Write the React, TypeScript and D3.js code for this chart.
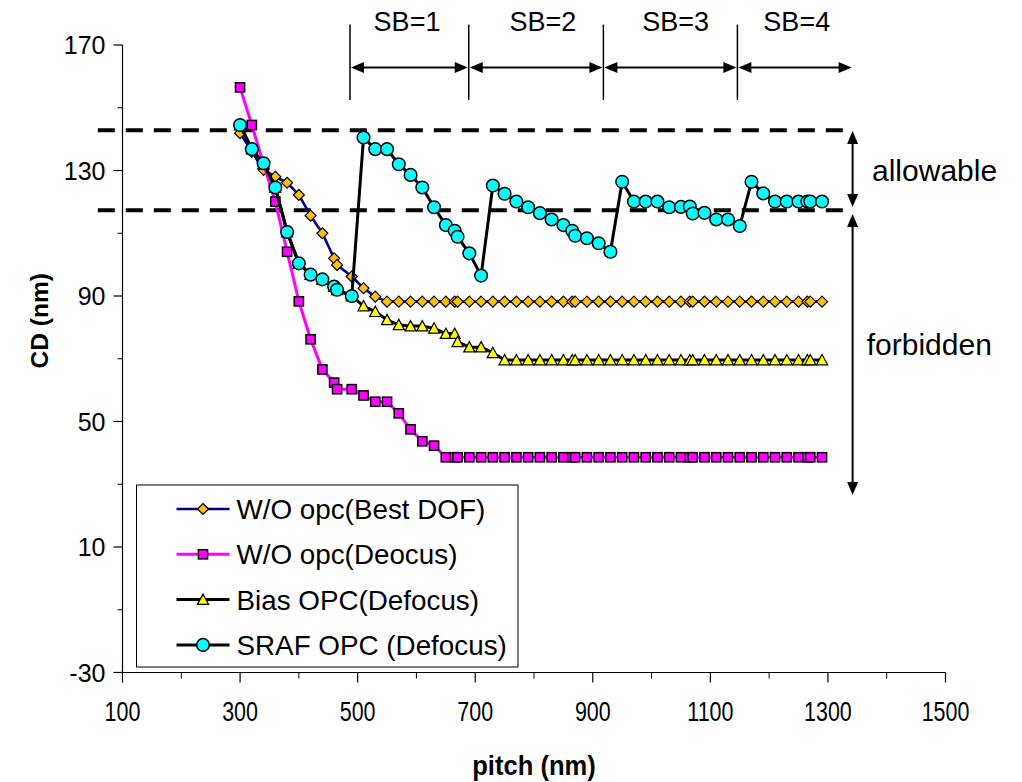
import React from 'react';
import * as d3 from 'd3';

const pitch = [300, 320, 340, 360, 380, 400, 420, 440, 460, 465, 490, 510, 530, 550, 570, 590, 610, 630, 650, 665, 670, 690, 710, 730, 750, 770, 790, 810, 830, 850, 865, 870, 890, 910, 930, 950, 970, 990, 1010, 1030, 1050, 1065, 1070, 1090, 1110, 1130, 1150, 1170, 1190, 1210, 1230, 1250, 1265, 1270, 1290];

const bestDof = [141.9, 136, 130.2, 128, 126.1, 122.2, 115.6, 110, 102, 99.9, 96.2, 92.5, 89.8, 88.2, 88.2, 88.2, 88.2, 88.2, 88.2, 88.2, 88.2, 88.2, 88.2, 88.2, 88.2, 88.2, 88.2, 88.2, 88.2, 88.2, 88.2, 88.2, 88.2, 88.2, 88.2, 88.2, 88.2, 88.2, 88.2, 88.2, 88.2, 88.2, 88.2, 88.2, 88.2, 88.2, 88.2, 88.2, 88.2, 88.2, 88.2, 88.2, 88.2, 88.2, 88.2];

const deocus = [156.5, 144.5, 132, 120.1, 104.1, 88.3, 76.2, 66.6, 62.4, 60.3, 60.3, 58.3, 56.3, 56.3, 52.6, 47.5, 43.7, 42.3, 38.6, 38.6, 38.6, 38.6, 38.6, 38.6, 38.6, 38.6, 38.6, 38.6, 38.6, 38.6, 38.6, 38.6, 38.6, 38.6, 38.6, 38.6, 38.6, 38.6, 38.6, 38.6, 38.6, 38.6, 38.6, 38.6, 38.6, 38.6, 38.6, 38.6, 38.6, 38.6, 38.6, 38.6, 38.6, 38.6, 38.6];

const biasOpc = [144.5, 136.8, 132.3, 124.6, 110.4, 100.4, 96.8, 95.3, 93, 92, 90, 86.8, 85, 82.4, 80.8, 80.4, 80.4, 79.7, 78, 78, 75.4, 73.7, 73.7, 71.9, 69.6, 69.6, 69.6, 69.6, 69.6, 69.6, 69.6, 69.6, 69.6, 69.6, 69.6, 69.6, 69.6, 69.6, 69.6, 69.6, 69.6, 69.6, 69.6, 69.6, 69.6, 69.6, 69.6, 69.6, 69.6, 69.6, 69.6, 69.6, 69.6, 69.6, 69.6];

const srafOpc = [144.5, 136.8, 132.3, 124.6, 110.4, 100.4, 96.8, 95.3, 93, 92, 90, 140.5, 136.8, 136.8, 132, 128.6, 124.6, 118.3, 112.6, 110.8, 108.9, 103.6, 96.5, 125.2, 122.6, 120.1, 118.3, 116.4, 114.4, 112.6, 110.8, 109.2, 108.4, 106.8, 104.1, 126.4, 120.1, 120.1, 120.1, 118.3, 118.4, 118.5, 116.3, 116.5, 114.4, 114.4, 112.3, 126.4, 122.7, 120.1, 120.1, 120.1, 120.1, 120.1, 120.1];

const seriesNames = ['W/O opc(Best DOF)', 'W/O opc(Deocus)', 'Bias OPC(Defocus)', 'SRAF OPC (Defocus)'];
const xTickValues = [100, 300, 500, 700, 900, 1100, 1300, 1500];
const xMinorValues = [200, 400, 600, 800, 1000, 1200, 1400];
const yTickValues = [-30, 10, 50, 90, 130, 170];
const yMinorValues = [-10, 30, 70, 110, 150];

// annotations (data units)
const sbBounds = [487, 689, 918, 1146, 1342];
const sbLabels = ['SB=1', 'SB=2', 'SB=3', 'SB=4'];
const sbLabelCenters = [584, 815, 1041, 1247];
const limitLines = [142.8, 117.3];
const allowableRange = [142.6, 118.4];
const forbiddenRange = [116.1, 26.6];

const W = 1022;
const H = 782;
const FONT = '"Liberation Sans", Arial, sans-serif';

const x = d3.scaleLinear().domain([100, 1500]).range([122.5, 945.5]);
const y = d3.scaleLinear().domain([-30, 170]).range([672.5, 45]);

type Kind = 'diamond' | 'square' | 'triangle' | 'circle';
const series: { name: string; values: number[]; line: string; lw: number; kind: Kind; fill: string }[] = [
  { name: seriesNames[0], values: bestDof, line: '#000080', lw: 2.6, kind: 'diamond', fill: '#FFC000' },
  { name: seriesNames[1], values: deocus, line: '#FF00FF', lw: 3, kind: 'square', fill: '#FF00FF' },
  { name: seriesNames[2], values: biasOpc, line: '#000000', lw: 3, kind: 'triangle', fill: '#FFFF00' },
  { name: seriesNames[3], values: srafOpc, line: '#000000', lw: 3, kind: 'circle', fill: '#00FFFF' },
];

function Marker({ kind, cx, cy, fill }: { kind: Kind; cx: number; cy: number; fill: string }) {
  if (kind === 'diamond') {
    return <path d={`M${cx},${cy - 5.5}L${cx + 5.5},${cy}L${cx},${cy + 5.5}L${cx - 5.5},${cy}Z`} fill={fill} stroke="#000" strokeWidth={1.2} />;
  }
  if (kind === 'square') {
    return <rect x={cx - 4.6} y={cy - 4.6} width={9.2} height={9.2} fill={fill} stroke="#000" strokeWidth={1.5} />;
  }
  if (kind === 'triangle') {
    return <path d={`M${cx},${cy - 5.5}L${cx + 5.6},${cy + 4.8}L${cx - 5.6},${cy + 4.8}Z`} fill={fill} stroke="#000" strokeWidth={1.2} />;
  }
  return <circle cx={cx} cy={cy} r={6.3} fill={fill} stroke="#000" strokeWidth={1.5} />;
}

function Arrow({ x1, y1, x2, y2 }: { x1: number; y1: number; x2: number; y2: number }) {
  const len = Math.hypot(x2 - x1, y2 - y1);
  const ux = (x2 - x1) / len;
  const uy = (y2 - y1) / len;
  const hl = 13;
  const hw = 5.5;
  const head = (tx: number, ty: number, dx: number, dy: number) => {
    const bx = tx - dx * hl;
    const by = ty - dy * hl;
    return `M${tx},${ty}L${bx - dy * hw},${by + dx * hw}L${bx + dy * hw},${by - dx * hw}Z`;
  };
  return (
    <g>
      <line x1={x1 + ux * 6} y1={y1 + uy * 6} x2={x2 - ux * 6} y2={y2 - uy * 6} stroke="#000" strokeWidth={2} />
      <path d={head(x2, y2, ux, uy)} fill="#000" />
      <path d={head(x1, y1, -ux, -uy)} fill="#000" />
    </g>
  );
}

export default function App() {
  const lineGen = (vals: number[]) =>
    d3
      .line<number>()
      .x((_, i) => x(pitch[i]))
      .y((d) => y(d))(vals) as string;

  const x0 = x(100);
  const x1 = x(1500);
  const yb = y(-30);
  const yt = y(170);

  const legX = 136.5;
  const legY = 485;
  const legW = 381.5;
  const legH = 182;
  const rowH = 45.3;

  return (
    <svg width={W} height={H} style={{ position: 'absolute', left: 0, top: 0, background: '#fff' }} fontFamily={FONT}>
      <rect width={W} height={H} fill="#fff" />

      {/* dashed limit lines */}
      {limitLines.map((v, i) => (
        <line key={i} x1={x(58)} x2={x(1328)} y1={y(v)} y2={y(v)} stroke="#000" strokeWidth={4} strokeDasharray="17 11" />
      ))}

      {/* axes */}
      <line x1={x0} x2={x0} y1={yt} y2={yb} stroke="#000" strokeWidth={1.2} />
      <line x1={x0} x2={x1} y1={yb} y2={yb} stroke="#000" strokeWidth={1.2} />
      {yTickValues.map((v) => (
        <g key={v}>
          <line x1={x0 - 9} x2={x0} y1={y(v)} y2={y(v)} stroke="#000" strokeWidth={1.2} />
          <text x={x0 - 17} y={y(v)} dy="0.36em" textAnchor="end" fontSize={25}>{v}</text>
        </g>
      ))}
      {yMinorValues.map((v) => (
        <line key={v} x1={x0 - 5} x2={x0} y1={y(v)} y2={y(v)} stroke="#000" strokeWidth={1} />
      ))}
      {xTickValues.map((v) => (
        <g key={v}>
          <line x1={x(v)} x2={x(v)} y1={yb} y2={yb + 10} stroke="#000" strokeWidth={1.2} />
          <text transform={`translate(${x(v)},${yb + 48}) scale(0.78,1)`} textAnchor="middle" fontSize={27.5}>{v}</text>
        </g>
      ))}
      {xMinorValues.map((v) => (
        <line key={v} x1={x(v)} x2={x(v)} y1={yb} y2={yb + 6} stroke="#000" strokeWidth={1} />
      ))}

      <text transform={`translate(${(x0 + x1) / 2},775) scale(0.93,1)`} textAnchor="middle" fontSize={27.5} fontWeight="bold">pitch (nm)</text>
      <text transform={`translate(48,${(yt + yb) / 2 - 38}) rotate(-90)`} textAnchor="middle" fontSize={24.5} fontWeight="bold">CD (nm)</text>

      {/* series */}
      {series.map((s, si) => (
        <g key={si}>
          <path d={lineGen(s.values)} fill="none" stroke={s.line} strokeWidth={s.lw} strokeLinejoin="round" />
          {s.values.map((v, i) => (
            <Marker key={i} kind={s.kind} cx={x(pitch[i])} cy={y(v)} fill={s.fill} />
          ))}
        </g>
      ))}

      {/* SB annotations */}
      {sbBounds.slice(0, 4).map((b, i) => (
        <line key={'bar' + i} x1={x(b)} x2={x(b)} y1={y(176.5)} y2={y(152.5)} stroke="#000" strokeWidth={1.5} />
      ))}
      {sbBounds.slice(0, 4).map((b, i) => (
        <Arrow key={'arr' + i} x1={x(b) + 1} y1={y(162.8)} x2={x(sbBounds[i + 1]) - 1} y2={y(162.8)} />
      ))}
      {sbLabels.map((t, i) => (
        <text key={t} x={x(sbLabelCenters[i])} y={31} textAnchor="middle" fontSize={27}>{t}</text>
      ))}

      {/* allowable / forbidden */}
      <Arrow x1={x(1342)} y1={y(allowableRange[0])} x2={x(1342)} y2={y(allowableRange[1])} />
      <Arrow x1={x(1342)} y1={y(forbiddenRange[0])} x2={x(1342)} y2={y(forbiddenRange[1])} />
      <text x={x(1375)} y={y(130)} dy="0.36em" fontSize={30}>allowable</text>
      <text x={x(1366)} y={y(74.5)} dy="0.36em" fontSize={30}>forbidden</text>

      {/* legend */}
      <rect x={legX} y={legY} width={legW} height={legH} fill="#fff" stroke="#000" strokeWidth={1} />
      {series.map((s, i) => {
        const cy = legY + 24 + i * rowH;
        return (
          <g key={'leg' + i}>
            <line x1={legX + 40} x2={legX + 93} y1={cy} y2={cy} stroke={s.line} strokeWidth={s.lw} />
            <Marker kind={s.kind} cx={legX + 66.5} cy={cy} fill={s.fill} />
            <text x={legX + 100} y={cy} dy="0.36em" fontSize={27.8}>{s.name}</text>
          </g>
        );
      })}
    </svg>
  );
}
